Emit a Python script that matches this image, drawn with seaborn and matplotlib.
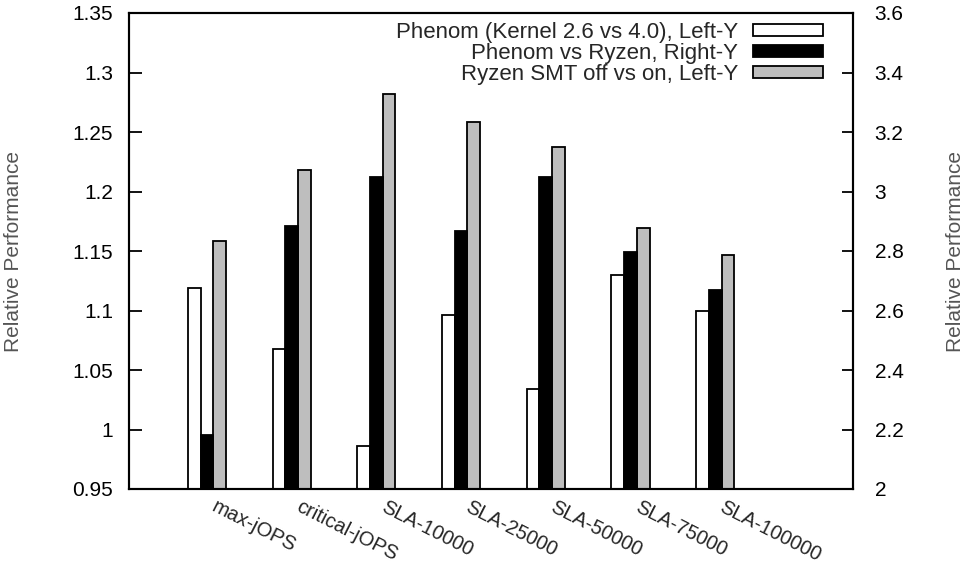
import numpy as np
import pandas as pd
import matplotlib
matplotlib.use("Agg")
import matplotlib.pyplot as plt
from matplotlib.patches import Patch
import seaborn as sns

# ---- data ----
categories = ["max-jOPS", "critical-jOPS", "SLA-10000", "SLA-25000",
              "SLA-50000", "SLA-75000", "SLA-100000"]
series_names = ["Phenom (Kernel 2.6 vs 4.0), Left-Y",
                "Phenom vs Ryzen, Right-Y",
                "Ryzen SMT off vs on, Left-Y"]
kernel_left = [1.119, 1.068, 0.986, 1.096, 1.034, 1.130, 1.100]
ryzen_right = [2.180, 2.885, 3.048, 2.867, 3.048, 2.798, 2.669]
smt_left = [1.158, 1.218, 1.282, 1.258, 1.237, 1.169, 1.147]
left_ticks = [0.95, 1.0, 1.05, 1.1, 1.15, 1.2, 1.25, 1.3, 1.35]
left_tick_labels = ["0.95", "1", "1.05", "1.1", "1.15", "1.2", "1.25", "1.3", "1.35"]
right_ticks = [2.0, 2.2, 2.4, 2.6, 2.8, 3.0, 3.2, 3.4, 3.6]
right_tick_labels = ["2", "2.2", "2.4", "2.6", "2.8", "3", "3.2", "3.4", "3.6"]
colors = ["#ffffff", "#000000", "#bebebe"]
ylabel = "Relative Performance"

sns.set_theme(style="white")
plt.rcParams["font.family"] = ["Liberation Sans", "DejaVu Sans"]

n = len(categories)
df_left = pd.DataFrame({
    "cat": categories * 3,
    "series": [series_names[0]] * n + [series_names[1]] * n + [series_names[2]] * n,
    "val": kernel_left + [np.nan] * n + smt_left,
})
df_right = pd.DataFrame({
    "cat": categories * 3,
    "series": [series_names[0]] * n + [series_names[1]] * n + [series_names[2]] * n,
    "val": [np.nan] * n + ryzen_right + [np.nan] * n,
})
palette = dict(zip(series_names, colors))

fig = plt.figure(figsize=(9.67, 5.67), dpi=100)
ax = fig.add_axes([129 / 967, 1 - 489 / 567, (853 - 129) / 967, (489 - 13) / 567])
ax2 = ax.twinx()

bar_kw = dict(x="cat", y="val", hue="series", hue_order=series_names,
              palette=palette, order=categories, width=0.45, dodge=True,
              edgecolor="black", linewidth=1.3, errorbar=None, legend=False,
              saturation=1)
sns.barplot(data=df_left, ax=ax, **bar_kw)
sns.barplot(data=df_right, ax=ax2, **bar_kw)

xlim = (-0.921, 7.627)
for a in (ax, ax2):
    a.set_xlim(*xlim)
ax.set_ylim(0.95, 1.35)
ax2.set_ylim(2.0, 3.6)

fs = 15
ax.set_yticks(left_ticks, left_tick_labels)
ax2.set_yticks(right_ticks, right_tick_labels)
ax.tick_params(axis="y", direction="in", length=9, width=1.3, pad=11.5,
               labelsize=fs, colors="black", left=True, right=False)
ax2.tick_params(axis="y", direction="in", length=8, width=1.3, pad=15.5,
                labelsize=fs, colors="black", right=True, left=False)

ax.set_xticks(np.arange(n) + 0.12, categories)
ax.tick_params(axis="x", length=0, pad=6, labelsize=14.5)
for lbl in ax.get_xticklabels():
    lbl.set_rotation(-27)
    lbl.set_ha("left")
    lbl.set_va("top")
    lbl.set_rotation_mode("anchor")
ax2.tick_params(axis="x", length=0, labelbottom=False)
ax.set_xlabel("")
ax2.set_xlabel("")

ax.set_ylabel(ylabel, fontsize=15, color="#555555", va="center")
ax2.set_ylabel(ylabel, fontsize=15, color="#555555", rotation=90, va="center")
ax.yaxis.set_label_coords(-0.159, 0.5)
ax2.yaxis.set_label_coords(1.142, 0.5)

for a in (ax, ax2):
    for s in a.spines.values():
        s.set_linewidth(1.5)
        s.set_color("black")
        s.set_visible(True)

handles = [Patch(facecolor=c, edgecolor="black", linewidth=1.3) for c in colors]
leg = ax2.legend(handles, series_names, loc="upper right",
                 bbox_to_anchor=(0.9586, 0.981), frameon=False, fontsize=16,
                 markerfirst=False, handlelength=3.15, handleheight=0.45,
                 handletextpad=0.68, labelspacing=0.0, borderpad=0,
                 borderaxespad=0)
for t in leg.get_texts():
    t.set_ha("right")

fig.savefig("out.png", dpi=100)
